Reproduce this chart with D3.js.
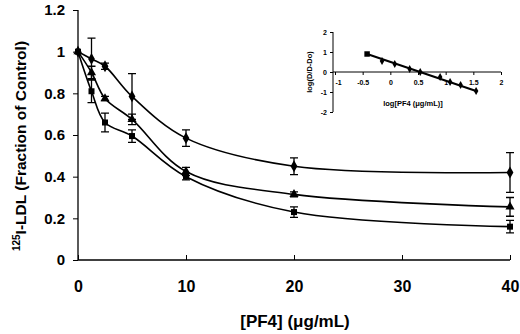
<!DOCTYPE html>
<html><head><meta charset="utf-8">
<script src="https://cdn.jsdelivr.net/npm/d3@7"></script>
<style>body{margin:0;background:#fff}svg{display:block}text{font-family:"Liberation Sans",Arial,sans-serif;font-weight:bold;fill:#000}</style>
</head><body>
<svg id="c" width="520" height="334"></svg>
<script>
const concentrations = [0, 1.25, 2.5, 5, 10, 20, 40];
const seriesNames = ["diamond", "triangle", "square"];
const diamondValues = [1.0, 0.965, 0.93, 0.785, 0.585, 0.45, 0.42];
const diamondErrors = [0, 0.1, 0.015, 0.11, 0.04, 0.04, 0.095];
const triangleValues = [1.0, 0.90, 0.775, 0.675, 0.425, 0.315, 0.255];
const triangleErrors = [0, 0.03, 0.01, 0.025, 0.02, 0.012, 0.045];
const squareValues = [1.0, 0.81, 0.66, 0.595, 0.40, 0.23, 0.16];
const squareErrors = [0, 0.055, 0.045, 0.03, 0.015, 0.025, 0.03];
const yTicks = [0, 0.2, 0.4, 0.6, 0.8, 1, 1.2];
const xTicks = [0, 10, 20, 30, 40];
const insetLogPF4 = [-0.42, -0.15, 0.08, 0.35, 0.54, 0.9, 1.08, 1.27, 1.55];
const insetLogD = [0.9, 0.55, 0.4, 0.15, 0.0, -0.25, -0.5, -0.65, -0.95];
const insetXTicks = [-1, -0.5, 0, 0.5, 1, 1.5, 2];
const insetYTicks = [-2, -1, 0, 1, 2];

const svg = d3.select("#c");
const x = d3.scaleLinear().domain([0, 40]).range([78, 510]);
const y = d3.scaleLinear().domain([0, 1.2]).range([260, 10]);
const fmt = d => String(+(+d).toFixed(2));

// axes
const yAxis = svg.append("g").attr("transform", "translate(78,0)")
  .call(d3.axisLeft(y).tickValues(yTicks).tickSize(5).tickPadding(8).tickFormat(fmt));
yAxis.select(".domain").attr("stroke-width", 1.3).attr("d", `M0,${y(1.2)}V${y(0)}`);
yAxis.selectAll("text").style("font-size", "15px");
const xAxis = svg.append("g").attr("transform", "translate(0,260)")
  .call(d3.axisBottom(x).tickValues(xTicks).tickSize(-5).tickPadding(21));
xAxis.select(".domain").attr("stroke-width", 1.3).attr("d", `M${x(0)},0H${x(40)}`);
xAxis.selectAll("text").style("font-size", "16px");

const series = [
  {name: seriesNames[0], v: diamondValues, e: diamondErrors, sym: d3.symbolDiamond, size: 40},
  {name: seriesNames[1], v: triangleValues, e: triangleErrors, sym: d3.symbolTriangle, size: 36},
  {name: seriesNames[2], v: squareValues, e: squareErrors, sym: d3.symbolSquare, size: 36}
];
const line = d3.line().x(d => x(d[0])).y(d => y(d[1])).curve(d3.curveCatmullRom.alpha(0.5));
series.forEach(s => {
  const pts = concentrations.map((c, i) => [c, s.v[i], s.e[i]]);
  svg.append("path").attr("d", line(pts)).attr("fill", "none").attr("stroke", "#000").attr("stroke-width", 1.6);
  const g = svg.append("g");
  pts.filter(p => p[2] > 0).forEach(p => {
    const cx = x(p[0]), top = y(p[1] + p[2]), bot = y(p[1] - p[2]);
    g.append("path").attr("d", `M${cx},${top}V${bot}M${cx-4},${top}H${cx+4}M${cx-4},${bot}H${cx+4}`)
      .attr("stroke", "#000").attr("stroke-width", 1.3).attr("fill", "none");
  });
  g.selectAll(".m").data(pts).join("path")
    .attr("transform", p => `translate(${x(p[0])},${y(p[1])})`)
    .attr("d", d3.symbol().type(s.sym).size(s.size)).attr("fill", "#000");
});

// axis titles
const yt = svg.append("text").attr("transform", "translate(26,146) rotate(-90)").attr("text-anchor", "middle").style("font-size", "15.5px");
yt.append("tspan").text("125").attr("dy", "-6").style("font-size", "10px");
yt.append("tspan").text("I-LDL (Fraction of Control)").attr("dy", "6");
svg.append("text").attr("x", 295).attr("y", 327).attr("text-anchor", "middle").style("font-size", "17px").text("[PF4] (μg/mL)");

// inset
const ix = d3.scaleLinear().domain([-1, 2]).range([335, 501]);
const iy = d3.scaleLinear().domain([-2, 2]).range([112, 32]);
const ia = svg.append("g").attr("transform", "translate(333,0)")
  .call(d3.axisLeft(iy).tickValues(insetYTicks).tickSize(3).tickPadding(3).tickFormat(fmt));
ia.select(".domain").attr("d", `M0,${iy(2)}V${iy(-2)}`).attr("stroke-width", 1);
ia.selectAll("text").style("font-size", "7px");
const ib = svg.append("g").attr("transform", `translate(0,${iy(0)})`)
  .call(d3.axisBottom(ix).tickValues(insetXTicks).tickSize(3).tickPadding(5).tickFormat(fmt));
ib.select(".domain").attr("d", `M333,0H${ix(2)}`).attr("stroke-width", 1);
ib.selectAll("text").style("font-size", "7px");
ib.selectAll(".tick").filter(d => d === -1).select("text").attr("dx", 3);
const fit = d3.line().x(d => ix(d[0])).y(d => iy(d[1]));
const ipts = insetLogPF4.map((v, i) => [v, insetLogD[i]]);
svg.append("path").attr("d", fit([ipts[0], ipts[ipts.length - 1]])).attr("stroke", "#000").attr("stroke-width", 2).attr("fill", "none");
svg.selectAll(".ip").data(ipts).join("path")
  .attr("transform", p => `translate(${ix(p[0])},${iy(p[1])})`)
  .attr("d", (p, i) => d3.symbol().type(i === 0 ? d3.symbolSquare : d3.symbolDiamond).size(i === 0 ? 30 : 18)()).attr("fill", "#000");
svg.append("text").attr("transform", "translate(312,72) rotate(-90)").attr("text-anchor", "middle").style("font-size", "7.5px").text("log(D/D-Do)");
svg.append("text").attr("x", 413).attr("y", 106).attr("text-anchor", "middle").style("font-size", "7.5px").text("log[PF4 (μg/mL)]");
</script>
</body></html>
